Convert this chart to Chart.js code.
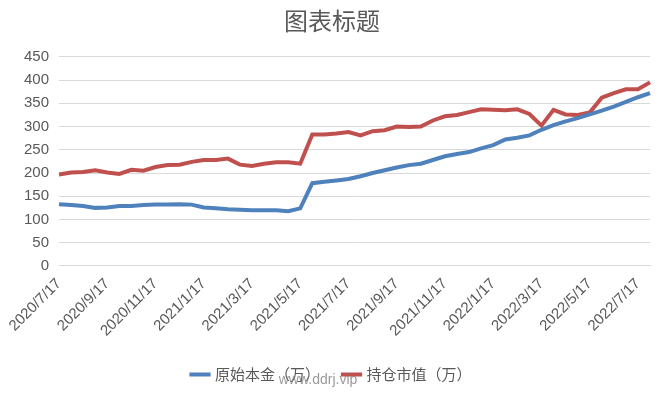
<!DOCTYPE html>
<html>
<head>
<meta charset="utf-8">
<script src="https://cdn.jsdelivr.net/npm/chart.js@4"></script>
<style>
  body { margin: 0; background: #fff; }
  #wrap { width: 664px; height: 400px; }
</style>
</head>
<body>
<div id="wrap"><canvas id="chart"></canvas></div>
<script>
// --- DATA ---
const tickLabels = ['2020/7/17', '2020/9/17', '2020/11/17', '2021/1/17', '2021/3/17', '2021/5/17',
    '2021/7/17', '2021/9/17', '2021/11/17', '2022/1/17', '2022/3/17', '2022/5/17', '2022/7/17'];

// half-month categories, 2020/7/17 .. 2022/8/1
const dates = [];
for (let i = 0; i < 50; i++) {
    const m = 7 + Math.floor(i / 2);
    const y = 2020 + Math.floor((m - 1) / 12);
    const mm = ((m - 1) % 12) + 1;
    dates.push(i % 2 === 0 ? `${y}/${mm}/17` : `${y}/${mm % 12 + 1}/1`);
}

const principal = [133, 131, 129, 125, 126, 129, 129, 131, 132, 132,
    133, 132, 126, 124, 122, 121, 120, 120, 120, 118,
    124, 178, 181, 184, 187, 193, 200, 206, 212, 217,
    220, 228, 236, 241, 245, 253, 260, 272, 276, 281,
    293, 303, 311, 318, 326, 334, 343, 353, 363, 372];

const marketValue = [197, 201, 202, 206, 201, 198, 207, 205, 213, 217,
    218, 224, 228, 228, 231, 218, 215, 220, 223, 223,
    220, 283, 283, 285, 288, 281, 290, 292, 300, 299,
    300, 313, 322, 325, 331, 337, 336, 335, 337, 327,
    302, 336, 326, 325, 330, 362, 372, 380, 380, 395];

// watermark drawn over the legend area
const watermark = {
    id: 'watermark',
    afterDraw(chart) {
        const ctx = chart.ctx;
        ctx.save();
        ctx.font = '14px "Liberation Sans", Arial';
        ctx.fillStyle = 'rgba(120,120,120,0.75)';
        ctx.textAlign = 'center';
        ctx.textBaseline = 'middle';
        ctx.fillText('www.ddrj.vip', 318, 380);
        ctx.restore();
    }
};

new Chart(document.getElementById('chart'), {
    type: 'line',
    data: {
        labels: dates,
        datasets: [
            { label: '原始本金（万）', data: principal, borderColor: '#4f81bd', backgroundColor: '#4f81bd',
              borderWidth: 4, pointRadius: 0, tension: 0 },
            { label: '持仓市值（万）', data: marketValue, borderColor: '#c0504d', backgroundColor: '#c0504d',
              borderWidth: 4, pointRadius: 0, tension: 0 }
        ]
    },
    options: {
        responsive: true,
        maintainAspectRatio: false,
        animation: false,
        layout: { padding: { left: 14, right: 14, top: 6, bottom: 8 } },
        plugins: {
            title: { display: true, text: '图表标题', color: '#595959',
                     font: { size: 24, family: '"Noto Sans CJK SC"', weight: 'normal' }, padding: { top: 0, bottom: 22 } },
            legend: { position: 'bottom',
                      labels: { usePointStyle: true, pointStyle: 'line', boxWidth: 40, padding: 24, color: '#595959',
                                font: { size: 15, family: '"Noto Sans CJK SC"' } } },
            tooltip: { enabled: false }
        },
        scales: {
            x: {
                grid: { display: false, drawTicks: true, tickLength: 6 },
                border: { color: '#d9d9d9' },
                ticks: {
                    autoSkip: false, maxRotation: 45, minRotation: 45, color: '#595959',
                    font: { size: 15, family: '"Liberation Sans"' },
                    callback: function (v) {
                        const l = this.getLabelForValue(v);
                        return tickLabels.includes(l) ? l : null;
                    }
                }
            },
            y: {
                min: 0, max: 450,
                ticks: { stepSize: 50, color: '#595959', font: { size: 15, family: '"Liberation Sans"' }, padding: 10 },
                grid: { color: '#d9d9d9', drawTicks: false },
                border: { display: false }
            }
        }
    },
    plugins: [watermark]
});
</script>
</body>
</html>
